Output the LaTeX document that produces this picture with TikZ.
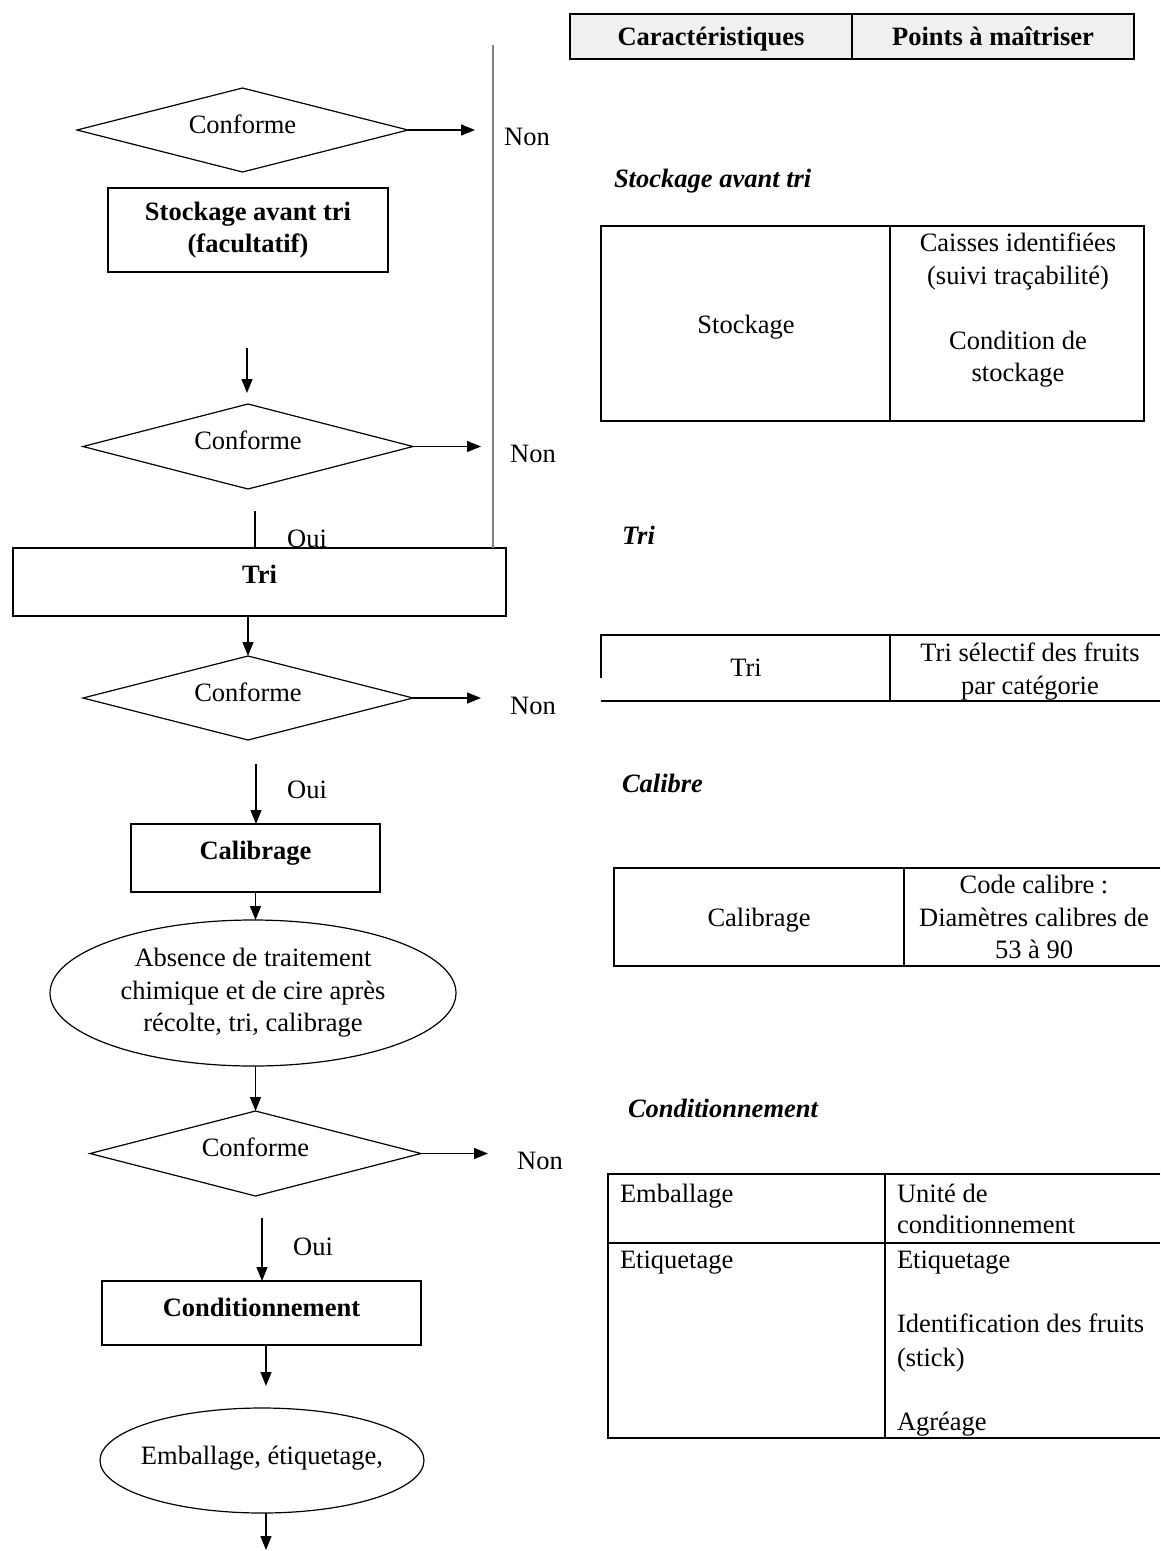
\documentclass[tikz,border=0pt]{standalone}
\usepackage{fontspec}
\setmainfont{Liberation Serif}
\usetikzlibrary{shapes.geometric,arrows.meta}
\begin{document}
\begin{tikzpicture}[x=1pt,y=-1pt,
  every node/.style={font=\fontsize{26.5}{32.5}\selectfont, inner sep=0pt, outer sep=0pt},
  dec/.style={diamond, aspect=4, draw, line width=1.2pt, text height=18pt, text depth=12pt},
  proc/.style={draw, line width=1.5pt, align=center, font=\fontsize{26.5}{32.5}\selectfont\bfseries},
  ell/.style={ellipse, draw, line width=1.2pt, align=center},
  arr/.style={-{Triangle[length=14pt,width=11pt]}, line width=1.3pt},
  tx/.style={text height=18pt, text depth=0pt},
  hd/.style={tx, font=\fontsize{26.5}{32.5}\selectfont\bfseries},
  it/.style={tx, anchor=west, font=\fontsize{26.5}{32.5}\selectfont\bfseries\itshape},
  tab/.style={line width=1.5pt},
]
\useasboundingbox (0,0) rectangle (1160,1551);

% ---------- flowchart ----------
\node[dec, minimum width=331pt, minimum height=84pt] (d1) at (242.5,130) {Conforme};
\node[proc, minimum width=280pt, minimum height=84pt] (stock) at (248,230) {Stockage avant tri\\(facultatif)};
\node[dec, minimum width=330pt, minimum height=85pt] (d2) at (248,446.5) {Conforme};
\node[proc, minimum width=493pt, minimum height=68pt, text height=18pt, text depth=14.5pt] (tri) at (259.5,582) {Tri};
\node[dec, minimum width=330pt, minimum height=84pt] (d3) at (248,698) {Conforme};
\node[proc, minimum width=249pt, minimum height=68pt, text height=18pt, text depth=14.5pt] (calib) at (255.5,858) {Calibrage};
\node[ell, minimum width=406pt, minimum height=146pt] (e1) at (253,993) {Absence de traitement\\chimique et de cire après\\récolte, tri, calibrage};
\node[dec, minimum width=331pt, minimum height=85pt] (d4) at (255.5,1153.5) {Conforme};
\node[proc, minimum width=319pt, minimum height=64pt, text height=18pt, text depth=10.5pt] (cond) at (261.5,1313) {Conditionnement};
\node[ell, minimum width=324pt, minimum height=105pt, inner xsep=-10pt, text height=18pt, text depth=10.5pt] (e2) at (262,1460.5) {Emballage, étiquetage,};

% free ends
\coordinate (n1) at (475,130);
\coordinate (n2) at (481,446.5);
\coordinate (n3) at (481,698);
\coordinate (n4) at (488,1153.5);
\coordinate (s1) at (247,348);
\coordinate (s2) at (247,393);
\coordinate (o1) at (255,511);
\coordinate (o2) at (256,764);
\coordinate (o3) at (262,1218);
\coordinate (c5) at (266,1386);
\coordinate (c6) at (266,1550);
\coordinate (g0) at (493,45);

% labels
\node[tx] (non1) at (527,136) {Non};
\node[tx] (non2) at (533,453) {Non};
\node[tx] (non3) at (533,705) {Non};
\node[tx] (non4) at (540,1160) {Non};
\node[tx] (oui1) at (307,538) {Oui};
\node[tx] (oui2) at (307,789) {Oui};
\node[tx] (oui3) at (313,1246) {Oui};

% connectors
\draw[line width=2pt, black!50] (g0) -- (g0 |- tri.north);
\draw[arr] (d1.east) -- (n1);
\draw[arr] (d2.east) -- (n2);
\draw[arr] (d3.east) -- (n3);
\draw[arr] (d4.east) -- (n4);
\draw[arr] (s1) -- (s2);
\draw[line width=1.3pt] (o1) -- (o1 |- tri.north);
\draw[arr] (tri.south -| d3.north) -- (d3.north);
\draw[arr] (o2) -- (o2 |- calib.north);
\draw[arr] (calib.south) -- (calib.south |- e1.north);
\draw[arr] (d4.north |- e1.south) -- (d4.north);
\draw[arr] (o3) -- (o3 |- cond.north);
\draw[arr] (cond.south -| c5) -- (c5);
\draw[arr] (e2.south -| c6) -- (c6);

% ---------- right side tables ----------
% header
\draw[tab, fill=black!6] (570,14) rectangle (1134,59);
\draw[tab] (852,14) -- (852,59);
\node[hd] (h1) at (711,36) {Caractéristiques};
\node[hd] (h2) at (993,36) {Points à maîtriser};

% Stockage avant tri
\node[it] (t1) at (614,178) {Stockage avant tri};
\draw[tab] (601,226) rectangle (1144,421);
\draw[tab] (890,226) -- (890,421);
\node[tx] (c11) at (746,324) {Stockage};
\node[tx] (c12a) at (1018,242) {Caisses identifiées};
\node[tx] (c12b) at (1018,275) {(suivi traçabilité)};
\node[tx] (c12c) at (1018,340) {Condition de};
\node[tx] (c12d) at (1018,372) {stockage};

% Tri
\node[it] (t2) at (622,535) {Tri};
\draw[tab] (601,678) -- (601,635) -- (1160,635);
\draw[tab] (601,701) -- (1160,701);
\draw[tab] (890,635) -- (890,701);
\node[tx] (c21) at (746,667) {Tri};
\node[tx] (c22a) at (1030,652) {Tri sélectif des fruits};
\node[tx] (c22b) at (1030,685) {par catégorie};

% Calibre
\node[it] (t3) at (622,783) {Calibre};
\draw[tab] (1160,868) -- (614,868) -- (614,966) -- (1160,966);
\draw[tab] (904,868) -- (904,966);
\node[tx] (c31) at (759,917) {Calibrage};
\node[tx] (c32a) at (1034,884) {Code calibre :};
\node[tx] (c32b) at (1034,917) {Diamètres calibres de};
\node[tx] (c32c) at (1034,949) {53 à 90};

% Conditionnement
\node[it] (t4) at (628,1108) {Conditionnement};
\draw[tab] (1160,1174) -- (608,1174) -- (608,1438) -- (1160,1438);
\draw[tab] (608,1243) -- (1160,1243);
\draw[tab] (885,1174) -- (885,1438);
\node[tx, anchor=west] (c41) at (620,1193) {Emballage};
\node[tx, anchor=west] (c43) at (620,1259) {Etiquetage};
\node[tx, anchor=west] (c42a) at (897,1193) {Unité de};
\node[tx, anchor=west] (c42b) at (897,1224) {conditionnement};
\node[tx, anchor=west] (c44a) at (897,1259) {Etiquetage};
\node[tx, anchor=west] (c44b) at (897,1323) {Identification des fruits};
\node[tx, anchor=west] (c44c) at (897,1357) {(stick)};
\node[tx, anchor=west] (c44d) at (897,1421) {Agréage};
\end{tikzpicture}
\end{document}
